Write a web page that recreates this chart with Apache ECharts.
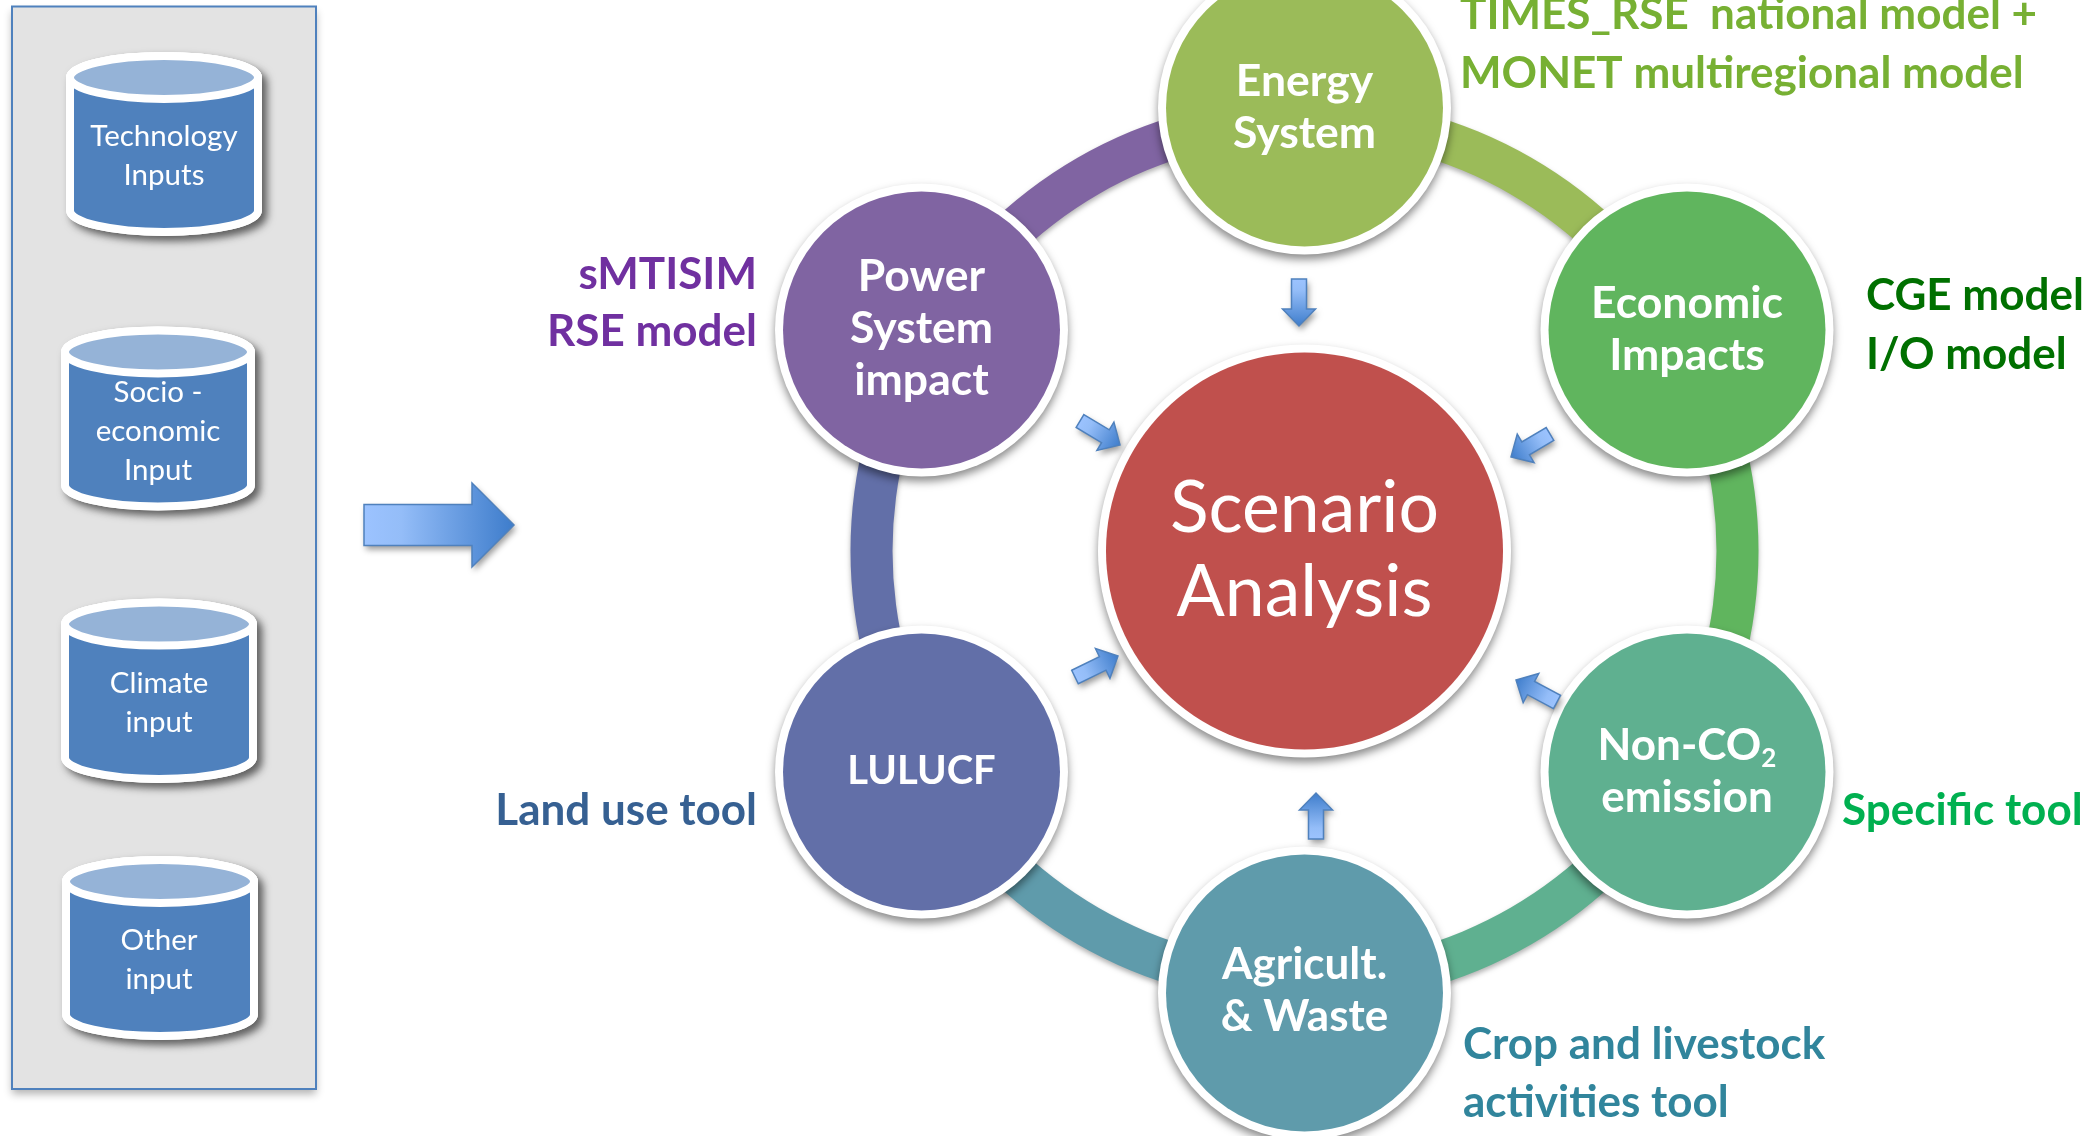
<!DOCTYPE html>
<html>
<head>
<meta charset="utf-8">
<style>html,body{margin:0;padding:0;background:#fff}#c{width:2092px;height:1136px}</style>
<script src="https://cdn.jsdelivr.net/npm/echarts@6/dist/echarts.min.js"></script>
</head>
<body>
<div id="c"></div>
<script>
// ---- content ----
const inputNames = ['Technology\nInputs', 'Socio -\neconomic\nInput', 'Climate\ninput', 'Other\ninput'];
const ringSegments = ['Energy to Economic', 'Economic to Non-CO2', 'Non-CO2 to Agriculture', 'Agriculture to LULUCF', 'LULUCF to Power', 'Power to Energy'];
const ringShares = [1, 1, 1, 1, 1, 1];
const moduleNames = ['Energy\nSystem', 'Economic\nImpacts', '{a|Non-CO}{b|2}\n{a|emission}', 'Agricult.\n& Waste', 'LULUCF', 'Power\nSystem\nimpact'];
const centreName = 'Scenario\nAnalysis';
const toolNames = ['TIMES_RSE  national model +', 'MONET multiregional model', 'CGE model', 'I/O model', 'Specific tool', 'Crop and livestock', 'activities tool', 'Land use tool', 'sMTISIM', 'RSE model'];

// ---- placement, in hidden-axis units ----
const moduleX = [1304.5, 1687, 1687, 1304.5, 921.5, 921.5];
const moduleY = [108, 330, 772, 993, 772, 330];
const centreXY = [1304.5, 551];
const cylLeft = [70, 65, 65, 66];
const cylRight = [258, 251, 253, 254];
const cylTop = [56, 330.5, 602.6, 860];
const cylBottom = [232, 506.5, 779, 1036];
const cylTextX = [164, 158, 159, 159];
const cylTextY = [156, 431, 702.5, 960];
const toolX = [1460, 1460, 1866, 1866, 1842, 1463, 1463, 757, 757, 757];
const toolY = [15, 74, 296, 355, 811, 1045, 1103, 811, 275, 332];
const toolAlign = ['left', 'left', 'left', 'left', 'left', 'left', 'left', 'right', 'right', 'right'];
const smallArrowTail = [[1299, 279], [1550, 434], [1557, 702], [1316, 839], [1075, 677], [1080, 421]];
const smallArrowTip = [[1299, 326], [1511, 457], [1516, 680], [1316, 793], [1118, 656], [1120, 445]];
const bigArrowTail = [364, 525];
const bigArrowTip = [514, 525];

// ---- styles ----
const ringColors = ['#9BBB59', '#60B55E', '#5FB090', '#5F9BAB', '#626FA8', '#8064A2'];
const moduleColors = ['#9BBB59', '#60B55E', '#5FB090', '#5F9BAB', '#626FA8', '#8064A2'];
const toolColors = ['#77B033', '#77B033', '#007000', '#007000', '#00B050', '#31859C', '#31859C', '#366092', '#7030A0', '#7030A0'];
const moduleLabelSize = [44.5, 44.5, 44.5, 44, 40, 44.5];
const moduleLabelShift = [0, 0, 0, -2, -1, -1];
const FONT = 'Lato';
const NODE_FILL_D = 277, CENTRE_FILL_D = 397, HALO = 16;
const shadow = { shadowColor: 'rgba(0,0,0,0.45)', shadowBlur: 9, shadowOffsetY: 5 };

function arrowItem(api) {
  const a = api.coord([api.value(0), api.value(1)]);
  const b = api.coord([api.value(2), api.value(3)]);
  const len = Math.hypot(b[0] - a[0], b[1] - a[1]);
  const sw = api.value(4) / 2, hw = api.value(5) / 2, hl = api.value(6);
  const base = {
    type: 'polygon',
    x: a[0], y: a[1],
    rotation: -Math.atan2(b[1] - a[1], b[0] - a[0]),
    shape: { points: [[0, -sw], [len - hl, -sw], [len - hl, -hw], [len, 0], [len - hl, hw], [len - hl, sw], [0, sw]] }
  };
  return { type: 'group', children: [
    Object.assign({}, base, { style: { fill: '#4F81BD', shadowColor: 'rgba(0,0,0,0.4)', shadowBlur: 6, shadowOffsetX: 2, shadowOffsetY: 4 } }),
    Object.assign({}, base, { style: {
      fill: new echarts.graphic.LinearGradient(0, 0, 1, 0, [
        { offset: 0, color: '#9CC3FF' }, { offset: 0.25, color: '#94BDF8' }, { offset: 1, color: '#3D7CCB' }
      ]),
      stroke: '#4F81BD', lineWidth: 1.5 } })
  ] };
}

const option = {
  animation: false,
  backgroundColor: '#ffffff',
  grid: { left: 0, right: 0, top: 0, bottom: 0 },
  xAxis: { type: 'value', min: 0, max: 2092, show: false },
  yAxis: { type: 'value', min: 0, max: 1136, inverse: true, show: false },
  series: [
    // input panel
    {
      type: 'custom', coordinateSystem: 'cartesian2d', silent: true, z: 1,
      encode: { x: [0, 2], y: [1, 3] },
      data: [[12, 6.5, 316, 1089]],
      renderItem(p, api) {
        const a = api.coord([api.value(0), api.value(1)]), b = api.coord([api.value(2), api.value(3)]);
        const shape = { x: a[0], y: a[1], width: b[0] - a[0], height: b[1] - a[1] };
        return { type: 'group', children: [
          { type: 'rect', shape, style: { fill: '#E3E3E3', shadowColor: 'rgba(0,0,0,0.3)', shadowBlur: 8, shadowOffsetY: 5 } },
          { type: 'rect', shape, style: { fill: '#E3E3E3', stroke: '#4F81BD', lineWidth: 2 } }
        ] };
      }
    },
    // input cylinders
    {
      type: 'custom', coordinateSystem: 'cartesian2d', silent: true, z: 2,
      encode: { x: [0, 1], y: [2, 3] },
      data: inputNames.map((n, i) => [cylLeft[i], cylRight[i], cylTop[i], cylBottom[i]]),
      renderItem(p, api) {
        const tl = api.coord([api.value(0), api.value(2)]), br = api.coord([api.value(1), api.value(3)]);
        const L = tl[0], T = tl[1], R = br[0], B = br[1];
        const rx = (R - L) / 2, ry = 21.5;
        const body = `M${L} ${T + ry}A${rx} ${ry} 0 0 1 ${R} ${T + ry}L${R} ${B - ry}A${rx} ${ry} 0 0 1 ${L} ${B - ry}Z`;
        return { type: 'group', children: [
          { type: 'path', shape: { pathData: body },
            style: { fill: '#fff', stroke: '#fff', lineWidth: 8, lineJoin: 'round', shadowColor: 'rgba(0,0,0,0.5)', shadowBlur: 9, shadowOffsetX: 5, shadowOffsetY: 5 } },
          { type: 'path', shape: { pathData: body },
            style: { fill: '#4F81BD', stroke: '#fff', lineWidth: 8, lineJoin: 'round' } },
          { type: 'path', shape: { pathData: `M${L} ${T + ry}A${rx} ${ry} 0 0 1 ${R} ${T + ry}A${rx} ${ry} 0 0 1 ${L} ${T + ry}Z` },
            style: { fill: '#95B3D7', stroke: '#fff', lineWidth: 8 } }
        ] };
      }
    },
    // cylinder captions
    {
      type: 'scatter', silent: true, z: 3, symbolSize: 1, itemStyle: { color: 'rgba(0,0,0,0)', opacity: 1 },
      label: { show: true, position: 'inside', color: '#fff', fontFamily: FONT, fontSize: 29.5, lineHeight: 39, align: 'center', verticalAlign: 'middle',
        formatter: p => inputNames[p.dataIndex] },
      data: inputNames.map((n, i) => [cylTextX[i], cylTextY[i]])
    },
    // big arrow
    {
      type: 'custom', coordinateSystem: 'cartesian2d', silent: true, z: 2,
      encode: { x: [0, 2], y: [1, 3] },
      data: [[bigArrowTail[0], bigArrowTail[1], bigArrowTip[0], bigArrowTip[1], 41, 84, 42]],
      renderItem(p, api) { return arrowItem(api); }
    },
    // ring of six bands
    {
      type: 'pie', silent: true, z: 2, center: [1304.5, 551], radius: [412, 454], startAngle: 90, clockwise: true,
      label: { show: false }, labelLine: { show: false }, emphasis: { disabled: true },
      itemStyle: { shadowColor: 'rgba(0,0,0,0.3)', shadowBlur: 5, shadowOffsetY: 3 },
      data: ringSegments.map((n, i) => ({ name: n, value: ringShares[i], itemStyle: { color: ringColors[i] } }))
    },
    // white haloes with their shadows, under the circles
    {
      type: 'scatter', silent: true, z: 3, symbol: 'circle', symbolSize: NODE_FILL_D + HALO,
      itemStyle: Object.assign({ opacity: 1, color: '#fff' }, shadow),
      data: moduleNames.map((n, i) => [moduleX[i], moduleY[i]])
    },
    {
      type: 'scatter', silent: true, z: 3, symbol: 'circle', symbolSize: CENTRE_FILL_D + HALO,
      itemStyle: Object.assign({ opacity: 1, color: '#fff' }, shadow),
      data: [centreXY]
    },
    // six module circles
    {
      type: 'scatter', silent: true, z: 4, symbol: 'circle', symbolSize: NODE_FILL_D,
      itemStyle: { opacity: 1 },
      label: { show: true, position: 'inside', color: '#fff', fontFamily: FONT, fontWeight: 'bold', lineHeight: 52, align: 'center', verticalAlign: 'middle',
        formatter: p => moduleNames[p.dataIndex],
        rich: { a: { color: '#fff', fontFamily: FONT, fontWeight: 'bold', fontSize: 44, lineHeight: 52 },
                b: { color: '#fff', fontFamily: FONT, fontWeight: 'bold', fontSize: 26, lineHeight: 52, verticalAlign: 'bottom' } } },
      data: moduleNames.map((n, i) => ({
        value: [moduleX[i], moduleY[i]],
        itemStyle: { color: moduleColors[i] },
        label: { fontSize: moduleLabelSize[i], offset: [0, moduleLabelShift[i]] }
      }))
    },
    // centre circle
    {
      type: 'scatter', silent: true, z: 4, symbol: 'circle', symbolSize: CENTRE_FILL_D,
      itemStyle: { opacity: 1, color: '#C0504D' },
      label: { show: true, position: 'inside', color: '#fff', fontFamily: FONT, fontSize: 71.5, lineHeight: 84, align: 'center', verticalAlign: 'middle', formatter: centreName },
      data: [centreXY]
    },
    // small arrows
    {
      type: 'custom', coordinateSystem: 'cartesian2d', silent: true, z: 5,
      encode: { x: [0, 2], y: [1, 3] },
      data: smallArrowTail.map((t, i) => [t[0], t[1], smallArrowTip[i][0], smallArrowTip[i][1], 15, 33, 17]),
      renderItem(p, api) { return arrowItem(api); }
    },
    // tool captions
    {
      type: 'custom', coordinateSystem: 'cartesian2d', silent: true, z: 6,
      encode: { x: 0, y: 1 },
      data: toolNames.map((n, i) => [toolX[i], toolY[i]]),
      renderItem(p, api) {
        const c = api.coord([api.value(0), api.value(1)]);
        return { type: 'text', x: c[0], y: c[1], style: {
          text: toolNames[p.dataIndex], fill: toolColors[p.dataIndex], fontFamily: FONT, fontWeight: 'bold', fontSize: 44,
          align: toolAlign[p.dataIndex], verticalAlign: 'middle' } };
      }
    }
  ]
};
const chart = echarts.init(document.getElementById('c'), null, { renderer: 'canvas' });
chart.setOption(option);
</script>
</body>
</html>
